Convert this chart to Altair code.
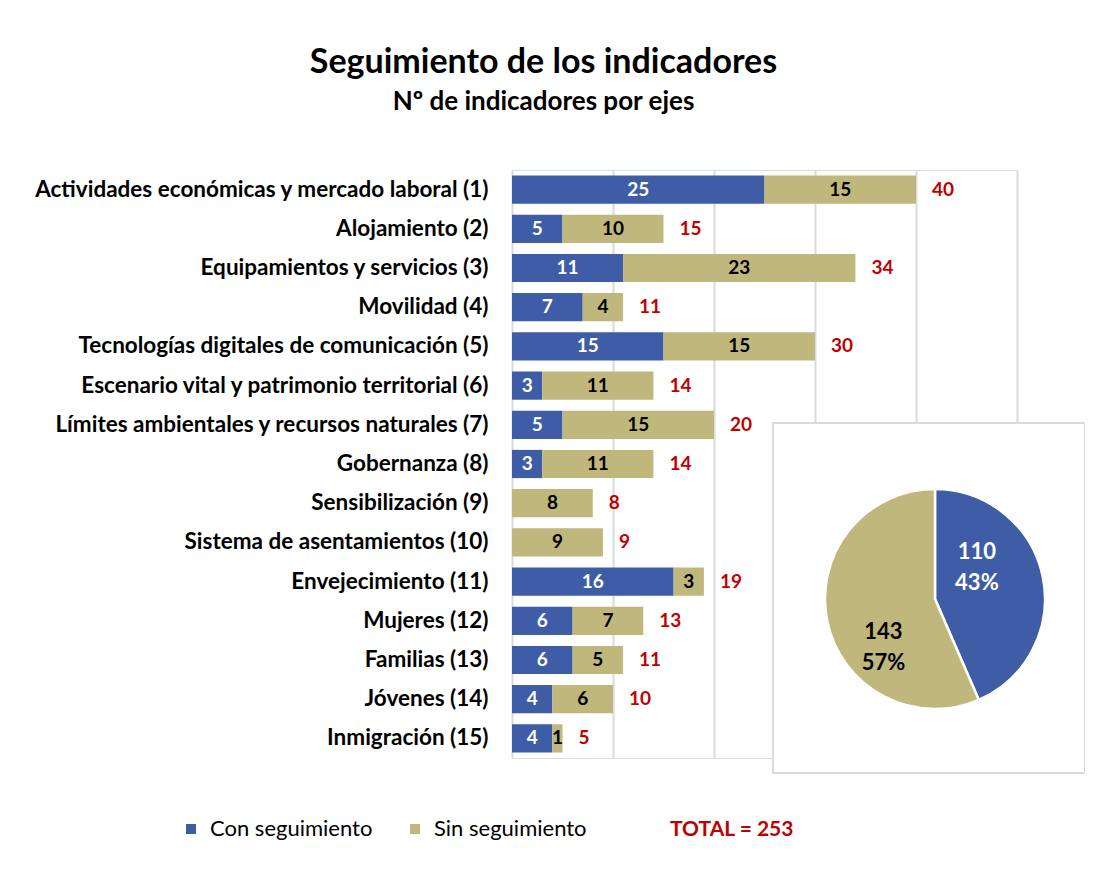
import altair as alt
import pandas as pd

ejes = [
    "Actividades económicas y mercado laboral (1)",
    "Alojamiento (2)",
    "Equipamientos y servicios (3)",
    "Movilidad (4)",
    "Tecnologías digitales de comunicación (5)",
    "Escenario vital y patrimonio territorial (6)",
    "Límites ambientales y recursos naturales (7)",
    "Gobernanza (8)",
    "Sensibilización (9)",
    "Sistema de asentamientos (10)",
    "Envejecimiento (11)",
    "Mujeres (12)",
    "Familias (13)",
    "Jóvenes (14)",
    "Inmigración (15)",
]
con_seguimiento = [25, 5, 11, 7, 15, 3, 5, 3, 0, 0, 16, 6, 6, 4, 4]
sin_seguimiento = [15, 10, 23, 4, 15, 11, 15, 11, 8, 9, 3, 7, 5, 6, 1]
series = ["Con seguimiento", "Sin seguimiento"]
colores = ["#3E5DA6", "#C0B77C"]
grid_ticks = [0, 10, 20, 30, 40, 50]

rows = []
for i, e in enumerate(ejes):
    rows.append({"eje": e, "serie": series[0], "orden": 0, "value": con_seguimiento[i]})
    rows.append({"eje": e, "serie": series[1], "orden": 1, "value": sin_seguimiento[i]})
df = pd.DataFrame(rows)

FONT = "Lato"
RED = "#C00000"
GRID = "#D6DCDC"

base = alt.Chart(df)
color_scale = alt.Scale(domain=series, range=colores)
x_scale = alt.Scale(domain=[0, 50], nice=False, zero=True)
y_plain = alt.Y("eje:N", sort=ejes, title=None)

stacked = base.transform_stack(
    stack="value", groupby=["eje"], as_=["x0", "x1"], sort=[alt.SortField("orden")]
).transform_calculate(mid="(datum.x0 + datum.x1) / 2")

bars = stacked.mark_bar().encode(
    x=alt.X("x0:Q", scale=x_scale, title=None,
            axis=alt.Axis(grid=True, values=grid_ticks, labels=False, ticks=False,
                          domain=False, gridColor=GRID, gridWidth=2)),
    x2="x1:Q",
    y=alt.Y("eje:N", sort=ejes, title=None,
            scale=alt.Scale(paddingInner=0.28, paddingOuter=0.14),
            axis=alt.Axis(ticks=False, domain=False, labelFont=FONT, labelFontSize=22.5,
                          labelFontWeight="bold", labelColor="black", labelPadding=24,
                          labelLimit=700)),
    color=alt.Color("serie:N", scale=color_scale,
                    legend=alt.Legend(orient="none", legendX=-332, legendY=648,
                                      direction="horizontal", title=None,
                                      symbolType="square", symbolSize=100,
                                      symbolStrokeWidth=0, labelFont=FONT,
                                      labelFontSize=22, labelColor="black",
                                      labelLimit=400,
                                      columnPadding=31, labelOffset=8)),
)

bar_labels = stacked.transform_filter("datum.value > 0").mark_text(
    font=FONT, fontSize=19, fontWeight="bold", baseline="middle", align="center"
).encode(
    x=alt.X("mid:Q", scale=x_scale),
    y=y_plain,
    text="value:Q",
    color=alt.condition("datum.serie == 'Con seguimiento'", alt.value("white"), alt.value("black")),
)

totals = base.transform_aggregate(total="sum(value)", groupby=["eje"]).mark_text(
    font=FONT, fontSize=19, fontWeight="bold", color=RED, align="left", dx=16, baseline="middle"
).encode(
    x=alt.X("total:Q", scale=x_scale),
    y=y_plain,
    text="total:Q",
)

box = alt.Chart(pd.DataFrame({"k": [0]})).mark_rect(
    fill="white", stroke=GRID, strokeWidth=2
).encode(x=alt.value(261), x2=alt.value(573), y=alt.value(253), y2=alt.value(603))

pie_base = base.transform_aggregate(total="sum(value)", groupby=["serie", "orden"])

pie = pie_base.mark_arc(outerRadius=110, stroke="white", strokeWidth=2.5).encode(
    theta=alt.Theta("total:Q", stack=True),
    order=alt.Order("orden:Q"),
    color=alt.Color("serie:N", scale=color_scale),
    x=alt.value(423),
    y=alt.value(429),
)

pie_lab_base = pie_base.transform_joinaggregate(grand="sum(total)").transform_calculate(
    label="datum.total + '\\n' + round(datum.total / datum.grand * 100) + '%'"
)

pie_lab_con = pie_lab_base.mark_text(
    radius=53, font=FONT, fontSize=22, fontWeight="bold", lineBreak="\n",
    color="white", dx=-10, dy=-36, lineHeight=31
).encode(
    theta=alt.Theta("total:Q", stack=True),
    order=alt.Order("orden:Q"),
    text="label:N",
    x=alt.value(423),
    y=alt.value(429),
    opacity=alt.condition("datum.orden == 0", alt.value(1), alt.value(0)),
)

pie_lab_sin = pie_lab_base.mark_text(
    radius=70, font=FONT, fontSize=22, fontWeight="bold", lineBreak="\n",
    color="black", dx=17, dy=19, lineHeight=31
).encode(
    theta=alt.Theta("total:Q", stack=True),
    order=alt.Order("orden:Q"),
    text="label:N",
    x=alt.value(423),
    y=alt.value(429),
    opacity=alt.condition("datum.orden == 1", alt.value(1), alt.value(0)),
)

total_text = base.transform_aggregate(total="sum(value)").transform_calculate(
    label="'TOTAL = ' + datum.total"
).mark_text(
    font=FONT, fontSize=21, fontWeight="bold", color=RED, align="left", baseline="middle"
).encode(x=alt.value(158), y=alt.value(660), text="label:N")

chart = alt.layer(
    bars, bar_labels, totals, box, pie, pie_lab_con, pie_lab_sin, total_text
).properties(
    width=505,
    height=588,
    padding={"left": 504, "top": 162, "right": 68, "bottom": 113},
    autosize=alt.AutoSizeParams(type="none"),
    title=alt.TitleParams(
        "Seguimiento de los indicadores",
        subtitle="Nº de indicadores por ejes",
        anchor="middle", dx=-221, offset=55,
        font=FONT, fontSize=34, fontWeight="bold", color="black",
        subtitleFont=FONT, subtitleFontSize=26, subtitleFontWeight="bold",
        subtitleColor="black", subtitlePadding=9,
    ),
).configure_view(stroke=None).configure(background="white")

chart.save("out.html", embed_options={"renderer": "svg", "actions": False})
